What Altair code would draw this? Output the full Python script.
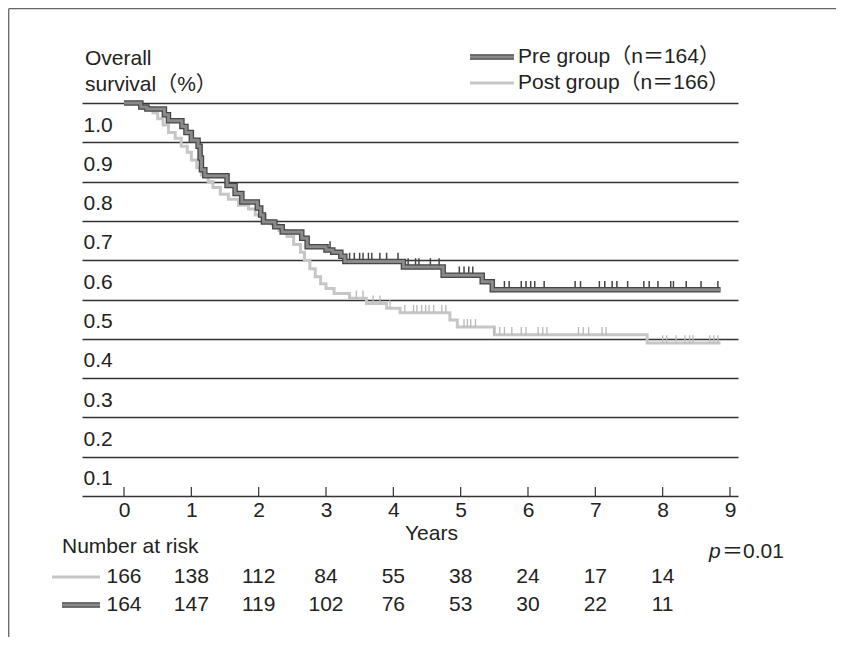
import altair as alt
import pandas as pd

# ---------------- data ----------------
pre_times = [0.0, 0.25, 0.34, 0.60, 0.66, 0.86, 0.92, 1.00, 1.10, 1.13, 1.15, 1.20,
             1.53, 1.65, 1.75, 1.98, 2.03, 2.07, 2.24, 2.35, 2.64, 2.72, 3.00, 3.10,
             3.22, 3.28, 4.15, 4.74, 5.32, 5.47, 8.86]
pre_surv = [1.0, 0.99, 0.985, 0.97, 0.955, 0.94, 0.925, 0.905, 0.89, 0.86, 0.83, 0.815,
            0.79, 0.77, 0.748, 0.733, 0.715, 0.697, 0.685, 0.672, 0.656, 0.634, 0.626, 0.62,
            0.61, 0.597, 0.583, 0.562, 0.545, 0.525, 0.525]

post_times = [0.0, 0.24, 0.43, 0.50, 0.58, 0.66, 0.76, 0.85, 0.94, 1.00, 1.08, 1.15,
              1.25, 1.32, 1.43, 1.55, 1.70, 1.85, 1.95, 2.10, 2.20, 2.30, 2.42, 2.52,
              2.62, 2.68, 2.76, 2.84, 2.92, 3.00, 3.12, 3.35, 3.60, 3.90, 4.10, 4.84,
              4.95, 5.50, 7.77, 8.86]
post_surv = [1.0, 0.987, 0.975, 0.96, 0.944, 0.925, 0.91, 0.89, 0.875, 0.855, 0.835, 0.817,
             0.80, 0.785, 0.768, 0.755, 0.74, 0.73, 0.715, 0.70, 0.69, 0.675, 0.66, 0.64,
             0.62, 0.60, 0.578, 0.558, 0.54, 0.528, 0.515, 0.503, 0.49, 0.478, 0.466, 0.448,
             0.43, 0.41, 0.389, 0.389]

pre_censor = [3.06, 3.35, 3.42, 3.50, 3.55, 3.63, 3.68, 3.80, 3.90, 4.07, 4.22, 4.33,
              4.38, 4.55, 4.68, 4.98, 5.05, 5.12, 5.18, 5.47, 5.65, 5.72, 5.90, 5.97,
              6.04, 6.10, 6.24, 6.70, 6.78, 7.06, 7.14, 7.25, 7.32, 7.48, 7.72, 7.80,
              7.93, 8.12, 8.16, 8.35, 8.57, 8.82]
post_censor = [3.45, 3.55, 3.70, 3.80, 3.95, 4.17, 4.30, 4.35, 4.42, 4.48, 4.53, 4.60,
               4.72, 4.78, 5.05, 5.10, 5.15, 5.22, 5.50, 5.58, 5.65, 5.76, 5.90, 5.97,
               6.15, 6.22, 6.28, 6.75, 6.82, 6.90, 7.10, 7.16, 8.00, 8.06, 8.20, 8.33,
               8.40, 8.45, 8.70, 8.76, 8.82]

risk_years = [0, 1, 2, 3, 4, 5, 6, 7, 8]
risk_post = [166, 138, 112, 84, 55, 38, 24, 17, 14]
risk_pre = [164, 147, 119, 102, 76, 53, 30, 22, 11]

x_ticks = [0, 1, 2, 3, 4, 5, 6, 7, 8, 9]
y_ticks = [0.0, 0.1, 0.2, 0.3, 0.4, 0.5, 0.6, 0.7, 0.8, 0.9, 1.0]

legend_labels = ["Pre group（n＝164）", "Post group（n＝166）"]
y_title = ["Overall", "survival（%）"]

# ---------------- styling ----------------
FONT = "Liberation Sans, Noto Sans CJK JP"
FS = 21
TXT = "#222222"
PRE_OUT, PRE_IN = "#454545", "#8a8a8a"
POST_COL = "#c6c6c6"
W, H = 656, 393

x_scale = alt.Scale(domain=[-0.624, 9.119], nice=False, zero=False)
y_scale = alt.Scale(domain=[0, 1], nice=False, zero=False)


def surv_at(times, surv, t):
    s = surv[0]
    for ti, si in zip(times, surv):
        if ti <= t:
            s = si
    return s


pre_df = pd.DataFrame({"t": pre_times, "s": pre_surv})
post_df = pd.DataFrame({"t": post_times, "s": post_surv})
pre_c = pd.DataFrame({"t": pre_censor,
                      "s": [surv_at(pre_times, pre_surv, t) for t in pre_censor]})
pre_c["s2"] = pre_c["s"] + 0.022
post_c = pd.DataFrame({"t": post_censor,
                       "s": [surv_at(post_times, post_surv, t) for t in post_censor]})
post_c["s2"] = post_c["s"] + 0.02

X_AXIS = alt.Axis(values=x_ticks, grid=False, domain=False, ticks=False,
                  labelPadding=3, labelFontSize=FS, labelFont=FONT,
                  labelColor=TXT, format="d", labelOverlap=False,
                  labelFlush=False, title="Years", titleFont=FONT,
                  titleFontSize=FS, titleFontWeight="normal",
                  titleColor=TXT, titleX=349, titleY=37,
                  titleAlign="center", titleBaseline="middle")
Y_AXIS = alt.Axis(values=y_ticks, grid=True, gridColor="#333333",
                  gridWidth=1.5, domain=False, ticks=False,
                  labelAlign="left", labelBaseline="middle",
                  labelPadding=-1, labelOffset=22, labelFontSize=FS,
                  labelFont=FONT, labelColor=TXT, labelOverlap=False,
                  labelFlush=False,
                  labelExpr="datum.value < 0.05 ? '' : format(datum.value, '.1f')",
                  title=None)


def X():
    return alt.X("t:Q", scale=x_scale, axis=X_AXIS)


def Y():
    return alt.Y("s:Q", scale=y_scale, axis=Y_AXIS)


tick_layer = alt.Chart(pd.DataFrame({"t": x_ticks})).mark_rule(
    color="#333333", strokeWidth=1.2).encode(
    x=X(), y=alt.value(H), y2=alt.value(H - 9))

post_line = alt.Chart(post_df).mark_line(
    interpolate="step-after", color=POST_COL, strokeWidth=3).encode(x=X(), y=Y())
post_ticks = alt.Chart(post_c).mark_rule(color="#b8b8b8", strokeWidth=1.3).encode(
    x=X(), y=Y(), y2="s2:Q")

pre_ticks = alt.Chart(pre_c).mark_rule(color="#444444", strokeWidth=1.5).encode(
    x=X(), y=Y(), y2="s2:Q")
pre_outer = alt.Chart(pre_df).mark_line(
    interpolate="step-after", color=PRE_OUT, strokeWidth=5.5).encode(x=X(), y=Y())
pre_inner = alt.Chart(pre_df).mark_line(
    interpolate="step-after", color=PRE_IN, strokeWidth=3).encode(x=X(), y=Y())


def label(text, x, y, align="left", style="normal"):
    return alt.Chart(pd.DataFrame({"txt": [text]})).mark_text(
        align=align, baseline="middle", font=FONT, fontSize=FS, color=TXT,
        fontStyle=style).encode(x=alt.value(x), y=alt.value(y), text="txt:N")


def swatch(x1, x2, y, pre):
    d = pd.DataFrame({"k": [0]})
    if pre:
        a = alt.Chart(d).mark_rule(color=PRE_OUT, strokeWidth=5.5).encode(
            x=alt.value(x1), x2=alt.value(x2), y=alt.value(y))
        b = alt.Chart(d).mark_rule(color=PRE_IN, strokeWidth=3).encode(
            x=alt.value(x1), x2=alt.value(x2), y=alt.value(y))
        return [a, b]
    return [alt.Chart(d).mark_rule(color=POST_COL, strokeWidth=3).encode(
        x=alt.value(x1), x2=alt.value(x2), y=alt.value(y))]


def risk_row(counts, y):
    d = pd.DataFrame({"t": risk_years, "n": [str(c) for c in counts]})
    return alt.Chart(d).mark_text(
        align="center", baseline="middle", font=FONT, fontSize=FS, color=TXT
    ).encode(x=X(), y=alt.value(y), text="n:N")


frame = [
    alt.Chart(pd.DataFrame({"k": [0]})).mark_rule(color="#666666", strokeWidth=1.3).encode(
        x=alt.value(-73.3), y=alt.value(-94.3), y2=alt.value(534)),
    alt.Chart(pd.DataFrame({"k": [0]})).mark_rule(color="#666666", strokeWidth=1.3).encode(
        x=alt.value(-73.3), x2=alt.value(754), y=alt.value(-94.3)),
]

layers = [post_line, tick_layer, post_ticks, pre_ticks, pre_outer, pre_inner]
layers += frame
layers += [label(y_title[0], 3, -44), label(y_title[1], 3, -18)]
layers += swatch(388, 432, -46, True) + [label(legend_labels[0], 436, -46)]
layers += swatch(388, 432, -20, False) + [label(legend_labels[1], 436, -20)]
layers += [label("Number at risk", -20, 444)]
layers += [label("p", 627, 449, style="italic"), label("＝0.01", 640, 449)]
layers += swatch(-30, 18, 474, False) + [risk_row(risk_post, 474)]
layers += swatch(-20, 18, 502, True) + [risk_row(risk_pre, 502)]

chart = alt.layer(*layers).properties(
    width=W, height=H,
    padding={"left": 74, "top": 95, "right": 98, "bottom": 141},
    autosize=alt.AutoSizeParams(type="none"),
).configure(background="white").configure_view(stroke=None)

chart.save("out.html", embed_options={"renderer": "svg", "actions": False})
